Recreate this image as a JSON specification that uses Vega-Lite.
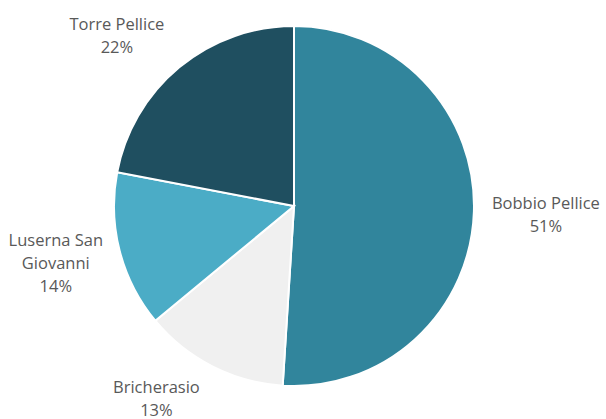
{
  "$schema": "https://vega.github.io/schema/vega-lite/v6.json",
  "width": 588,
  "height": 412,
  "autosize": "none",
  "padding": {"left": 0, "top": 0, "right": 18, "bottom": 7},
  "background": "white",
  "view": {"stroke": null},
  "data": {
    "values": [
      {"name": "Bobbio Pellice", "value": 51, "label": "Bobbio Pellice\n51%"},
      {"name": "Bricherasio", "value": 13, "label": "Bricherasio\n13%"},
      {"name": "Luserna San Giovanni", "value": 14, "label": "Luserna San\nGiovanni\n14%"},
      {"name": "Torre Pellice", "value": 22, "label": "Torre Pellice\n22%"}
    ]
  },
  "encoding": {
    "theta": {"field": "value", "type": "quantitative", "stack": true},
    "order": {"field": "name", "type": "nominal"}
  },
  "layer": [
    {
      "mark": {"type": "arc", "radius": 180, "stroke": "white", "strokeWidth": 2},
      "encoding": {
        "color": {
          "field": "name",
          "type": "nominal",
          "scale": {
            "domain": ["Bobbio Pellice", "Bricherasio", "Luserna San Giovanni", "Torre Pellice"],
            "range": ["#31859c", "#f0f0f0", "#4bacc6", "#1f4f60"]
          },
          "legend": null
        }
      }
    },
    {
      "mark": {"type": "text", "radius": 248, "dx": 4, "dy": -9.5, "font": "Open Sans", "fontSize": 16.5, "color": "#595959", "lineBreak": "\n", "lineHeight": 23, "align": "center", "baseline": "middle"},
      "encoding": {
        "text": {"condition": {"test": "datum.name === 'Bobbio Pellice'", "field": "label"}, "value": ""}
      }
    },
    {
      "mark": {"type": "text", "radius": 248, "dx": -25, "dy": -38.5, "font": "Open Sans", "fontSize": 16.5, "color": "#595959", "lineBreak": "\n", "lineHeight": 23, "align": "center", "baseline": "middle"},
      "encoding": {
        "text": {"condition": {"test": "datum.name === 'Bricherasio'", "field": "label"}, "value": ""}
      }
    },
    {
      "mark": {"type": "text", "radius": 248, "dx": 2, "dy": -27, "font": "Open Sans", "fontSize": 16.5, "color": "#595959", "lineBreak": "\n", "lineHeight": 23, "align": "center", "baseline": "middle"},
      "encoding": {
        "text": {"condition": {"test": "datum.name === 'Luserna San Giovanni'", "field": "label"}, "value": ""}
      }
    },
    {
      "mark": {"type": "text", "radius": 248, "dx": -19, "dy": 10.5, "font": "Open Sans", "fontSize": 16.5, "color": "#595959", "lineBreak": "\n", "lineHeight": 23, "align": "center", "baseline": "middle"},
      "encoding": {
        "text": {"condition": {"test": "datum.name === 'Torre Pellice'", "field": "label"}, "value": ""}
      }
    }
  ]
}
